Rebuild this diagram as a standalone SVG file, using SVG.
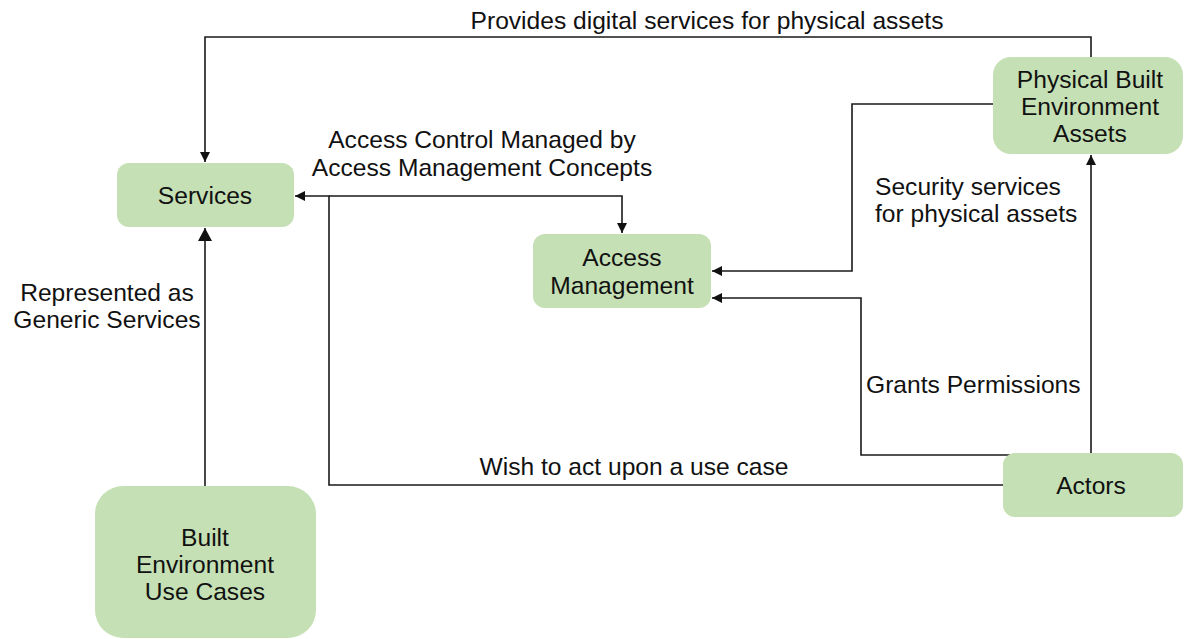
<svg xmlns="http://www.w3.org/2000/svg" width="1184" height="639" viewBox="0 0 1184 639">
  <style>
    .node rect { fill: #c5e0b4; stroke: none; }
    text { font-family: "Liberation Sans", Arial, sans-serif; font-size: 24.6px; fill: #111; }
    .c { text-anchor: middle; }
    .wire { fill: none; stroke: #1a1a1a; stroke-width: 1.6; }
  </style>
  <defs>
    <marker id="tip" markerUnits="userSpaceOnUse" markerWidth="10" markerHeight="10" viewBox="0 0 8 8" refX="8" refY="4" orient="auto">
      <path d="M0,0 L8,4 L0,8 Z" fill="#111"/>
    </marker>
    <marker id="tipBig" markerUnits="userSpaceOnUse" markerWidth="14" markerHeight="14" viewBox="0 0 12 13" refX="12" refY="6.5" orient="auto">
      <path d="M0,0 L12,6.5 L0,13 Z" fill="#111"/>
    </marker>
  </defs>

  <!-- connectors -->
  <g id="connectors">
    <path class="wire" d="M1091,57 V37 H205 V162" marker-end="url(#tip)"/>
    <path class="wire" d="M1003,485 H329 V196 H295" marker-end="url(#tip)"/>
    <path class="wire" d="M329,196 H622 V233" marker-end="url(#tip)"/>
    <path class="wire" d="M993,104 H852 V271 H712" marker-end="url(#tip)"/>
    <path class="wire" d="M1010,455 H861 V298 H712" marker-end="url(#tip)"/>
    <path class="wire" d="M1091,453 V155" marker-end="url(#tip)"/>
    <path class="wire" d="M205,486 V228" marker-end="url(#tipBig)"/>
  </g>

  <!-- connector labels -->
  <g id="labels">
    <text class="c" x="707" y="29">Provides digital services for physical assets</text>
    <text class="c" x="482" y="148">Access Control Managed by</text>
    <text class="c" x="482" y="176">Access Management Concepts</text>
    <text class="c" x="107" y="301">Represented as</text>
    <text class="c" x="107" y="328">Generic Services</text>
    <text x="875" y="195">Security services</text>
    <text x="875" y="222">for physical assets</text>
    <text x="866" y="393">Grants Permissions</text>
    <text class="c" x="634" y="475">Wish to act upon a use case</text>
  </g>

  <!-- nodes -->
  <g id="services" class="node">
    <rect x="117" y="163" width="177" height="64" rx="12"/>
    <text class="c" x="205" y="204">Services</text>
  </g>
  <g id="access-management" class="node">
    <rect x="533" y="234" width="178" height="74" rx="12"/>
    <text class="c" x="622" y="266">Access</text>
    <text class="c" x="622" y="294">Management</text>
  </g>
  <g id="physical-assets" class="node">
    <rect x="993" y="57" width="190" height="97" rx="18"/>
    <text class="c" x="1090" y="88">Physical Built</text>
    <text class="c" x="1090" y="115">Environment</text>
    <text class="c" x="1090" y="142">Assets</text>
  </g>
  <g id="actors" class="node">
    <rect x="1003" y="453" width="180" height="64" rx="12"/>
    <text class="c" x="1091" y="494">Actors</text>
  </g>
  <g id="use-cases" class="node">
    <rect x="95" y="486" width="221" height="152" rx="28"/>
    <text class="c" x="205" y="546">Built</text>
    <text class="c" x="205" y="573">Environment</text>
    <text class="c" x="205" y="600">Use Cases</text>
  </g>
</svg>
